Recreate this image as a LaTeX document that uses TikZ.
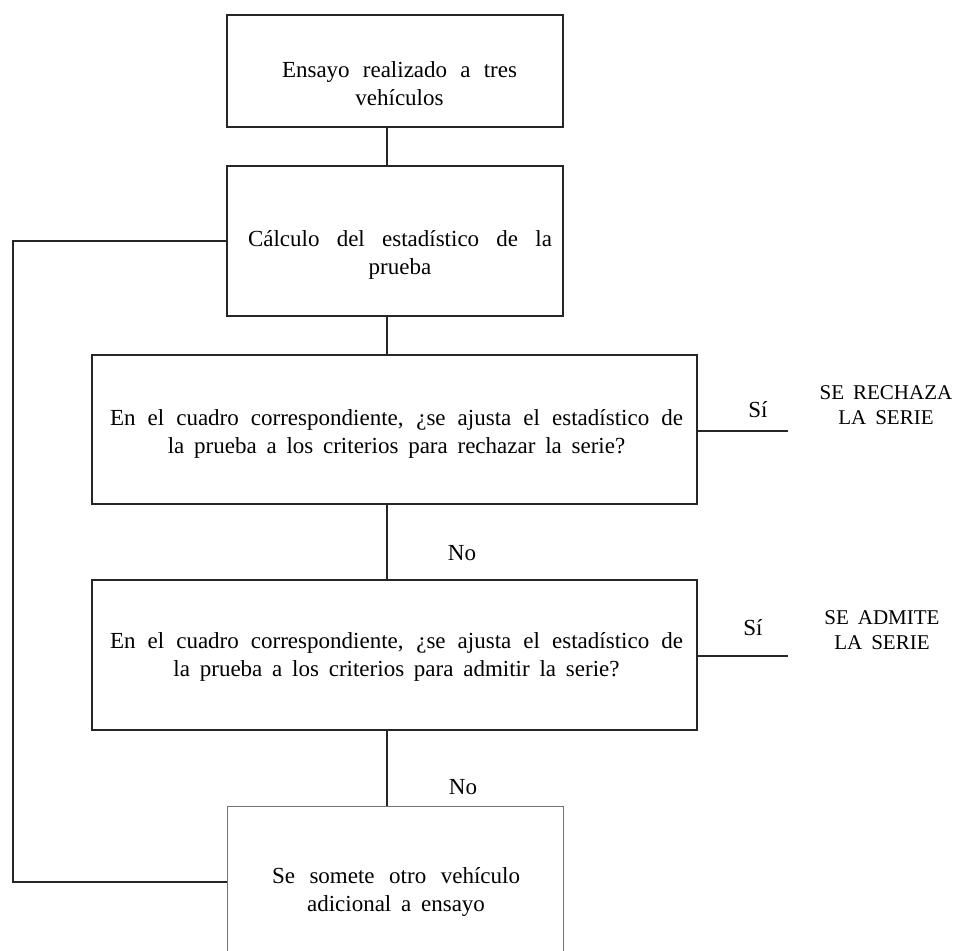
\documentclass[tikz,border=0pt]{standalone}
\usepackage{fontspec}
\setmainfont{Liberation Serif}[WordSpace={1.7,1.7,1}]
\begin{document}
\begin{tikzpicture}[x=1pt,y=-1pt,
  box/.style={draw=black!85,line width=1.3pt,rectangle,inner sep=0pt},
  openbox/.style={draw=black!55,line width=0.8pt,rectangle,inner sep=0pt},
  lbl/.style={font=\fontsize{23}{28}\selectfont,align=center,inner sep=0pt},
  res/.style={font=\fontsize{21}{24.5}\selectfont,align=center,inner sep=0pt},
  link/.style={line width=1.3pt,draw=black!85}]
\useasboundingbox (0,0) rectangle (960,950);
\fill[white] (0,0) rectangle (960,950);
\clip (0,0) rectangle (960,950);

% boxes
\node[box,minimum width=336pt,minimum height=112pt] (b1) at (395,71) {};
\node[box,minimum width=336pt,minimum height=150pt] (b2) at (395,241) {};
\node[box,minimum width=605pt,minimum height=149pt] (b3) at (394.5,429.5) {};
\node[box,minimum width=605pt,minimum height=150pt] (b4) at (394.5,655) {};
\node[openbox,minimum width=336pt,minimum height=152pt] (b5) at (395,882) {};

% texts
\node[lbl] (t1) at (399.5,84) {\makebox[235pt][s]{Ensayo realizado a tres}\\vehículos};
\node[lbl] (t2) at (400,255) {\makebox[304pt][s]{Cálculo del estadístico de la}\\prueba};
\node[lbl] (t3) at (396.5,434) {\makebox[573pt][s]{En el cuadro correspondiente, ¿se ajusta el estadístico de}\\la prueba a los criterios para rechazar la serie?};
\node[lbl] (t4) at (396.5,657) {\makebox[573pt][s]{En el cuadro correspondiente, ¿se ajusta el estadístico de}\\la prueba a los criterios para admitir la serie?};
\node[lbl] (t5) at (396,892) {\makebox[248pt][s]{Se somete otro vehículo}\\adicional a ensayo};

% vertical connectors
\coordinate (cx) at (387,0);
\draw[link] (b1.south -| cx) -- (b2.north -| cx);
\draw[link] (b2.south -| cx) -- (b3.north -| cx);
\draw[link] (b3.south -| cx) -- (b4.north -| cx);
\draw[link] (b4.south -| cx) -- (b5.north -| cx);

% yes branches
\coordinate (s3) at (788,431);
\coordinate (s4) at (788,656);
\draw[link] (b3.east |- s3) -- (s3);
\draw[link] (b4.east |- s4) -- (s4);

% loop back
\coordinate (lx) at (13,0);
\draw[link] (b2.west) -- (b2.west -| lx) |- (b5.west);

% labels
\node[lbl] (si3) at (758,410) {Sí};
\node[lbl] (si4) at (753,628) {Sí};
\node[lbl] (no1) at (462,553) {No};
\node[lbl] (no2) at (463,787) {No};
\node[res] (r1) at (886,405) {SE RECHAZA\\LA SERIE};
\node[res] (r2) at (882,630) {SE ADMITE\\LA SERIE};
\end{tikzpicture}
\end{document}
